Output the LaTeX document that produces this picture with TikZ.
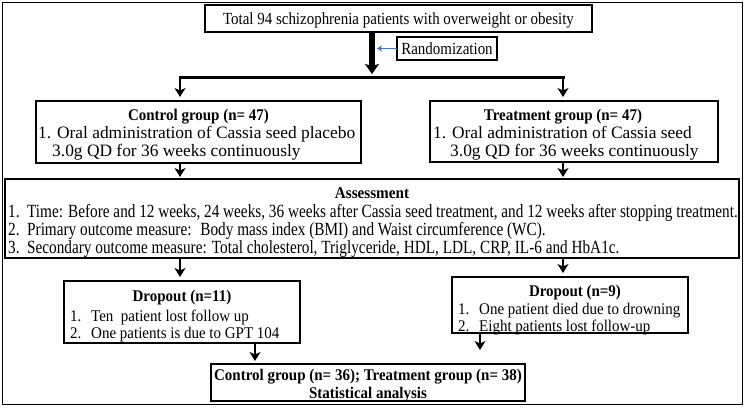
\documentclass[tikz,border=0pt]{standalone}
\usepackage{fontspec}
\setmainfont{Liberation Serif}
\newfontfamily\condA[FakeStretch=0.88]{Liberation Serif}
\newfontfamily\condB[FakeStretch=0.82]{Liberation Serif}
\newfontfamily\condC[FakeStretch=0.92]{Liberation Serif}
\usetikzlibrary{arrows.meta}
\definecolor{randblue}{RGB}{68,114,196}
\begin{document}
\begin{tikzpicture}[x=1pt,y=-1pt,
  box/.style={draw, line width=1.1pt, inner sep=0pt, outer sep=0pt, anchor=north west},
  txt/.style={inner sep=0pt, anchor=base west, font=\condC\fontsize{16.3}{18}\selectfont},
  ctxt/.style={txt, anchor=base},
  toptxt/.style={ctxt, font=\condA\fontsize{17}{18}\selectfont},
  btxt/.style={txt, font=\fontsize{17.4}{18}\selectfont},
  atxt/.style={txt, font=\condB\fontsize{18.6}{18}\selectfont},
  ttl/.style={ctxt, font=\condC\fontsize{16.3}{18}\selectfont\bfseries},
  arr/.style={line width=2.4pt, -{Stealth[length=9pt,width=11pt,inset=2.5pt]}},
  bigarr/.style={line width=5.5pt, -{Stealth[length=10pt,width=14pt,inset=2pt]}},
  bluearr/.style={draw=randblue, line width=1.6pt, -{Stealth[length=5pt,width=6pt]}},
  splitline/.style={line width=3pt},
]
\useasboundingbox (0,0) rectangle (745,410);
\node[box, line width=1.2pt, minimum width=740pt, minimum height=402pt] (frame) at (2.5,2.5) {};

% top
\node[box, minimum width=387pt, minimum height=27pt] (top) at (205,5) {};
\node[toptxt] (toptxt) at (top.center |- 0,24) {Total 94 schizophrenia patients with overweight or obesity};

% randomization
\node[box, minimum width=100pt, minimum height=23pt] (rand) at (397,37) {};
\node[toptxt] (randtxt) at (rand.center |- 0,54) {Randomization};
\coordinate (mainx) at (372,0);
\coordinate (maintip) at (372,74);
\draw[bigarr] (top.south -| mainx) -- (maintip);
\coordinate (bluetip) at (377,48.5);
\draw[bluearr] (rand.west) -- (bluetip);

% split
\coordinate (sl) at (180,77);
\coordinate (sr) at (563,77);
\draw[splitline] ([xshift=-1.5pt]sl) -- ([xshift=1.5pt]sr);

% control group
\node[box, minimum width=325pt, minimum height=62pt] (ctrl) at (36,101) {};
\node[ttl] (ctrlt) at (198.5,120) {Control group (n= 47)};
\node[btxt] (ctrl1) at (38,138) {1. Oral administration of Cassia seed placebo};
\node[btxt] (ctrl2) at (52,156) {3.0g QD for 36 weeks continuously};

% treatment group
\node[box, minimum width=288pt, minimum height=61pt] (treat) at (430,101) {};
\node[ttl] (treatt) at (563,120) {Treatment group (n= 47)};
\node[btxt] (treat1) at (433,138) {1. Oral administration of Cassia seed};
\node[btxt] (treat2) at (450,156) {3.0g QD for 36 weeks continuously};

\draw[arr, shorten >=4pt] (sl) -- (ctrl.north -| sl);
\draw[arr, shorten >=4pt] (sr) -- (treat.north -| sr);

% assessment
\node[box, minimum width=734pt, minimum height=79pt] (assess) at (5,179) {};
\node[ctxt, font=\condC\fontsize{16.5}{17}\selectfont\bfseries] (asst) at (372,198) {Assessment};
\node[atxt] (assn1) at (8,217) {1.};
\node[atxt] (ass1) at (27,217) {Time: Before and 12 weeks, 24 weeks, 36 weeks after Cassia seed treatment, and 12 weeks after stopping treatment.};
\node[atxt] (assn2) at (8,235) {2.};
\node[atxt] (ass2) at (27,235) {Primary outcome measure: \ Body mass index (BMI) and Waist circumference (WC).};
\node[atxt] (assn3) at (8,253) {3.};
\node[atxt] (ass3) at (27,253) {Secondary outcome measure: Total cholesterol, Triglyceride, HDL, LDL, CRP, IL-6 and HbA1c.};

\draw[arr, shorten >=2pt] (ctrl.south -| sl) -- (assess.north -| sl);
\draw[arr, shorten >=2pt] (treat.south -| sr) -- (assess.north -| sr);

% dropout left
\node[box, minimum width=236pt, minimum height=62pt] (dropl) at (64,281) {};
\node[ttl] (droplt) at (182,301) {Dropout (n=11)};
\node[txt] (dropln1) at (70,321) {1.};
\node[txt] (dropl1) at (91,321) {Ten \ patient lost follow up};
\node[txt] (dropln2) at (70,338) {2.};
\node[txt] (dropl2) at (91,338) {One patients is due to GPT 104};

% dropout right
\node[box, minimum width=236pt, minimum height=56pt] (dropr) at (452,277) {};
\node[ttl] (droprt) at (575,296) {Dropout (n=9)};
\node[txt] (droprn1) at (458,314) {1.};
\node[txt] (dropr1) at (479,314) {One patient died due to drowning};
\node[txt] (droprn2) at (458,331) {2.};
\node[txt] (dropr2) at (479,331) {Eight patients lost follow-up};

\draw[arr, shorten >=4pt] (assess.south -| sl) -- (dropl.north -| sl);
\draw[arr, shorten >=4pt] (assess.south -| sr) -- (dropr.north -| sr);

% final
\node[box, minimum width=314pt, minimum height=37pt] (final) at (211,364) {};
\node[ttl] (finalt1) at (final.center |- 0,380) {Control group (n= 36); Treatment group (n= 38)};
\node[ttl] (finalt2) at (final.center |- 0,398) {Statistical analysis};

\coordinate (bl) at (255,0);
\coordinate (br) at (480,0);
\draw[arr, shorten >=3pt] (dropl.south -| bl) -- (final.north -| bl);
\draw[arr, shorten >=14pt] (dropr.south -| br) -- (final.north -| br);
\end{tikzpicture}
\end{document}
